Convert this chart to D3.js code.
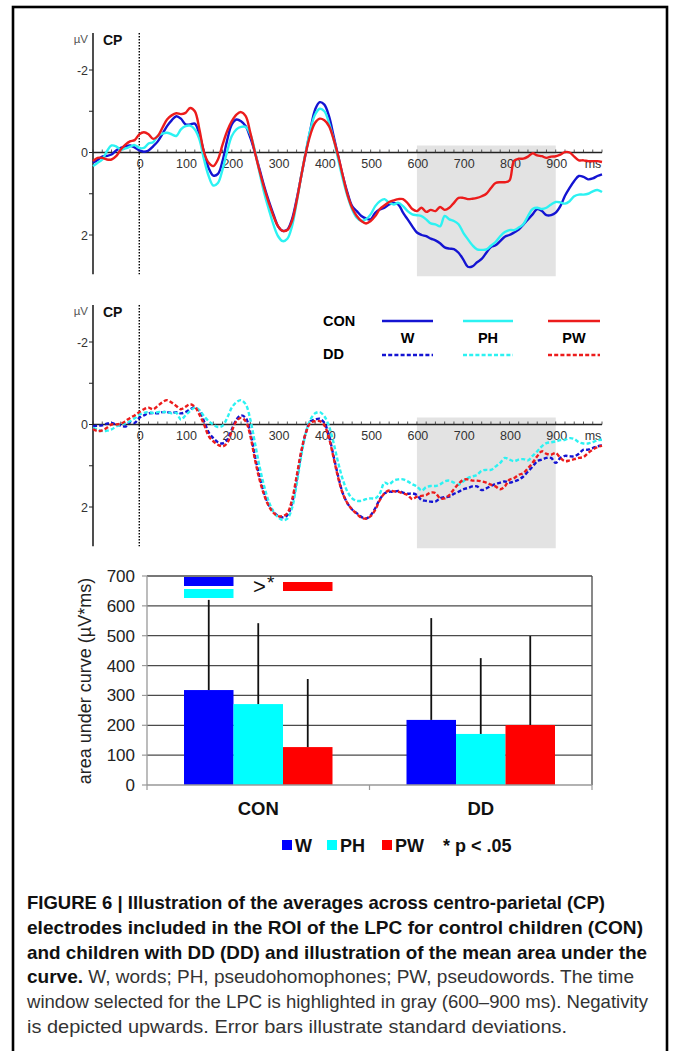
<!DOCTYPE html>
<html>
<head>
<meta charset="utf-8">
<script src="https://cdn.jsdelivr.net/npm/d3@7"></script>
<style>
  html, body { margin: 0; padding: 0; background: #fff; }
  svg { display: block; }
  text { font-family: "Liberation Sans", Arial, sans-serif; }
</style>
</head>
<body>
<svg id="fig" width="673" height="1051"></svg>
<script>
// ---------- ERP data (µV, negativity plotted upwards), sampled every 10 ms from -100 to 1000 ms ----------
const tStart = -100, tEnd = 1000, tStep = 10;
const conditions = ["W", "PH", "PW"];
const colors = { W: "#1414d2", PH: "#2cf2f2", PW: "#ec1c1c" };
const barColors = { W: "#0000ff", PH: "#00ffff", PW: "#ff0000" };

const conW = [
  0.25, 0.18, 0.10, 0.08, 0.05, -0.05, -0.11, -0.15, -0.17, -0.12,
  -0.05, -0.02, -0.05, -0.15, -0.27, -0.45, -0.64, -0.78, -0.88, -0.82,
  -0.68, -0.68, -0.70, -0.44, 0.00, 0.38, 0.56, 0.52, 0.20, -0.30,
  -0.68, -0.80, -0.76, -0.64, -0.36, 0.00, 0.41, 0.82, 1.18, 1.50,
  1.79, 1.90, 1.87, 1.62, 1.14, 0.57, 0.00, -0.56, -1.04, -1.22,
  -1.16, -0.88, -0.40, 0.09, 0.57, 0.98, 1.30, 1.42, 1.54, 1.60,
  1.62, 1.46, 1.38, 1.34, 1.26, 1.22, 1.26, 1.46, 1.62, 1.79,
  1.94, 2.00, 2.03, 2.09, 2.13, 2.20, 2.30, 2.33, 2.34, 2.43,
  2.59, 2.77, 2.76, 2.66, 2.58, 2.43, 2.29, 2.25, 2.15, 2.04,
  2.00, 1.94, 1.87, 1.75, 1.62, 1.50, 1.37, 1.42, 1.52, 1.52,
  1.46, 1.30, 1.05, 0.86, 0.69, 0.57, 0.59, 0.65, 0.63, 0.57,
  0.53
];
const conPH = [
  0.33, 0.25, 0.17, -0.03, -0.17, -0.15, -0.07, -0.10, -0.14, -0.18,
  -0.11, -0.11, -0.22, -0.25, -0.40, -0.46, -0.48, -0.44, -0.40, -0.56,
  -0.64, -0.65, -0.56, -0.32, 0.17, 0.57, 0.80, 0.74, 0.41, -0.03,
  -0.40, -0.56, -0.62, -0.62, -0.44, -0.03, 0.49, 0.98, 1.38, 1.75,
  2.03, 2.15, 2.09, 1.79, 1.22, 0.57, -0.03, -0.56, -0.92, -1.06,
  -1.00, -0.72, -0.32, 0.17, 0.65, 1.06, 1.38, 1.58, 1.66, 1.62,
  1.50, 1.30, 1.18, 1.13, 1.22, 1.26, 1.22, 1.30, 1.42, 1.50,
  1.52, 1.54, 1.62, 1.72, 1.74, 1.79, 1.54, 1.62, 1.66, 1.74,
  1.94, 2.10, 2.25, 2.35, 2.36, 2.35, 2.26, 2.17, 2.03, 1.93,
  1.88, 1.88, 1.82, 1.74, 1.54, 1.37, 1.34, 1.37, 1.34, 1.26,
  1.20, 1.21, 1.24, 1.18, 1.06, 1.02, 1.02, 1.00, 0.94, 0.91,
  0.96
];
const conPW = [
  0.21, 0.13, 0.13, 0.17, 0.17, 0.09, -0.07, -0.19, -0.27, -0.30,
  -0.44, -0.49, -0.44, -0.33, -0.40, -0.60, -0.80, -0.90, -0.95, -0.93,
  -0.96, -1.08, -1.00, -0.56, 0.00, 0.25, 0.33, 0.17, -0.19, -0.52,
  -0.76, -0.92, -0.98, -0.88, -0.48, 0.00, 0.45, 0.86, 1.22, 1.54,
  1.79, 1.90, 1.88, 1.66, 1.18, 0.57, 0.00, -0.44, -0.72, -0.82,
  -0.78, -0.64, -0.32, 0.09, 0.57, 1.02, 1.34, 1.54, 1.66, 1.72,
  1.66, 1.54, 1.37, 1.28, 1.20, 1.16, 1.13, 1.13, 1.23, 1.37,
  1.42, 1.34, 1.44, 1.39, 1.42, 1.32, 1.39, 1.34, 1.22, 1.10,
  1.10, 1.13, 1.12, 1.10, 1.06, 1.00, 0.86, 0.74, 0.72, 0.72,
  0.68, 0.20, 0.15, 0.15, 0.10, 0.02, 0.07, 0.09, 0.13, 0.10,
  0.09, 0.05, -0.01, 0.00, 0.10, 0.19, 0.19, 0.21, 0.21, 0.21,
  0.23
];
const ddW = [
  0.04, 0.03, 0.02, -0.02, -0.04, 0.00, 0.02, 0.05, -0.06, -0.04,
  -0.16, -0.22, -0.27, -0.28, -0.27, -0.30, -0.30, -0.28, -0.30, -0.27,
  -0.30, -0.37, -0.41, -0.33, -0.08, 0.19, 0.33, 0.43, 0.46, 0.37,
  0.12, -0.12, -0.22, -0.16, 0.20, 0.77, 1.26, 1.67, 1.95, 2.11,
  2.22, 2.25, 2.20, 1.91, 1.34, 0.69, 0.20, -0.08, -0.12, -0.14,
  -0.04, 0.28, 0.77, 1.26, 1.67, 1.91, 2.06, 2.15, 2.24, 2.28,
  2.20, 2.03, 1.81, 1.67, 1.63, 1.63, 1.61, 1.65, 1.68, 1.67,
  1.71, 1.83, 1.85, 1.87, 1.87, 1.79, 1.76, 1.75, 1.68, 1.63,
  1.57, 1.54, 1.50, 1.50, 1.59, 1.55, 1.49, 1.44, 1.41, 1.38,
  1.41, 1.38, 1.34, 1.26, 1.14, 1.02, 0.89, 0.85, 0.81, 0.81,
  0.93, 0.81, 0.76, 0.77, 0.77, 0.71, 0.61, 0.61, 0.57, 0.53,
  0.51
];
const ddPH = [
  0.08, 0.12, 0.16, 0.15, 0.12, 0.05, 0.00, -0.03, -0.08, -0.15,
  -0.24, -0.28, -0.30, -0.28, -0.30, -0.30, -0.30, -0.27, -0.28, -0.12,
  -0.22, -0.33, -0.41, -0.35, -0.20, -0.08, 0.00, 0.06, 0.03, -0.16,
  -0.41, -0.54, -0.59, -0.49, -0.12, 0.45, 1.02, 1.50, 1.87, 2.11,
  2.25, 2.32, 2.28, 2.03, 1.46, 0.77, 0.20, -0.12, -0.27, -0.30,
  -0.20, 0.04, 0.45, 0.93, 1.34, 1.63, 1.79, 1.85, 1.85, 1.81,
  1.79, 1.79, 1.67, 1.41, 1.45, 1.36, 1.33, 1.33, 1.38, 1.45,
  1.50, 1.60, 1.52, 1.49, 1.49, 1.45, 1.38, 1.36, 1.41, 1.46,
  1.38, 1.30, 1.26, 1.22, 1.12, 1.10, 1.10, 1.02, 0.93, 0.81,
  0.85, 0.89, 0.85, 0.84, 0.87, 0.76, 0.65, 0.53, 0.45, 0.43,
  0.41, 0.38, 0.37, 0.33, 0.35, 0.43, 0.46, 0.46, 0.43, 0.38,
  0.37
];
const ddPW = [
  0.11, 0.16, 0.14, 0.08, 0.00, 0.00, -0.02, -0.08, -0.16, -0.22,
  -0.30, -0.37, -0.41, -0.37, -0.45, -0.54, -0.59, -0.53, -0.45, -0.37,
  -0.43, -0.49, -0.43, -0.24, 0.00, 0.28, 0.41, 0.49, 0.53, 0.45,
  0.16, -0.08, -0.16, -0.08, 0.28, 0.85, 1.34, 1.71, 1.98, 2.14,
  2.22, 2.22, 2.15, 1.83, 1.26, 0.65, 0.20, -0.04, -0.08, -0.08,
  0.02, 0.33, 0.81, 1.30, 1.68, 1.91, 2.06, 2.17, 2.26, 2.28,
  2.22, 2.07, 1.83, 1.67, 1.60, 1.62, 1.63, 1.67, 1.71, 1.81,
  1.75, 1.73, 1.71, 1.65, 1.66, 1.79, 1.79, 1.71, 1.57, 1.44,
  1.34, 1.33, 1.36, 1.36, 1.38, 1.41, 1.46, 1.50, 1.57, 1.50,
  1.34, 1.30, 1.22, 1.18, 1.06, 0.93, 0.77, 0.65, 0.71, 0.73,
  0.69, 0.81, 0.89, 0.87, 0.84, 0.81, 0.79, 0.69, 0.61, 0.55,
  0.51
];

const xTickLabels = [0, 100, 200, 300, 400, 500, 600, 700, 800, 900];
const yTickLabels = [-2, 0, 2];
const lpcWindow = [600, 900];

// ---------- area under curve (µV*ms), mean and SD ----------
const groups = ["CON", "DD"];
const aucMean = { CON: [318, 271, 127], DD: [218, 171, 201] };
const aucSD   = { CON: [302, 271, 228], DD: [341, 254, 298] };
const aucTicks = [0, 100, 200, 300, 400, 500, 600, 700];

// ---------- caption ----------
const captionLines = [
  [{ t: "FIGURE 6 | Illustration of the averages across centro-parietal (CP)", b: true }],
  [{ t: "electrodes included in the ROI of the LPC for control children (CON)", b: true }],
  [{ t: "and children with DD (DD) and illustration of the mean area under the", b: true }],
  [{ t: "curve.", b: true }, { t: " W, words; PH, pseudohomophones; PW, pseudowords. The time", b: false }],
  [{ t: "window selected for the LPC is highlighted in gray (600–900 ms). Negativity", b: false }],
  [{ t: "is depicted upwards. Error bars illustrate standard deviations.", b: false }]
];
const captionWidths = [578, 616, 620, 607, 621, 540];

// ======================================================================
const svg = d3.select("#fig");
const times = d3.range(tStart, tEnd + 1, tStep);

// outer frame
svg.append("rect").attr("x", 13).attr("y", 7).attr("width", 654).attr("height", 1060)
  .attr("fill", "none").attr("stroke", "#000").attr("stroke-width", 2.6);

const x = d3.scaleLinear().domain([-100, 1000]).range([93, 602]);

function erpPanel(yZero, series, dashed, legend) {
  const y = d3.scaleLinear().domain([-2, 2]).range([yZero - 83, yZero + 82]);
  const g = svg.append("g");
  const yTop = y(-2.9), yBot = y(2.95);

  // LPC window
  g.append("rect")
    .attr("x", x(lpcWindow[0])).attr("width", x(lpcWindow[1]) - x(lpcWindow[0]))
    .attr("y", y(-0.17)).attr("height", y(3.0) - y(-0.17))
    .attr("fill", "#e3e3e3");

  // stimulus onset
  g.append("line").attr("x1", x(0)).attr("x2", x(0)).attr("y1", yTop).attr("y2", yBot)
    .attr("stroke", "#000").attr("stroke-width", 1.4).attr("stroke-dasharray", "1.5,1.5");

  // y axis
  g.append("line").attr("x1", x(-100)).attr("x2", x(-100)).attr("y1", yTop).attr("y2", yBot)
    .attr("stroke", "#222").attr("stroke-width", 1.6);
  [-2, -1, 0, 1, 2].forEach(v => {
    g.append("line").attr("x1", x(-100) - 4).attr("x2", x(-100)).attr("y1", y(v)).attr("y2", y(v))
      .attr("stroke", "#222").attr("stroke-width", 1);
  });
  yTickLabels.forEach(v => {
    g.append("text").attr("x", x(-100) - 5).attr("y", y(v) + 4.5).attr("text-anchor", "end")
      .attr("font-size", 12.5).attr("fill", "#333").text(v);
  });
  g.append("text").attr("x", 88).attr("y", yTop + 10).attr("text-anchor", "end")
    .attr("font-size", 11.5).attr("fill", "#555").text("µV");
  g.append("text").attr("x", 103).attr("y", yTop + 12).attr("font-size", 14)
    .attr("font-weight", "bold").attr("fill", "#111").text("CP");

  // x axis along 0 µV
  g.append("line").attr("x1", x(-100)).attr("x2", x(1000)).attr("y1", y(0)).attr("y2", y(0))
    .attr("stroke", "#222").attr("stroke-width", 1.6);
  d3.range(-100, 1001, 20).forEach(t => {
    g.append("line").attr("x1", x(t)).attr("x2", x(t)).attr("y1", y(0) - 3).attr("y2", y(0))
      .attr("stroke", "#333").attr("stroke-width", 0.8);
  });
  xTickLabels.forEach(t => {
    g.append("text").attr("x", x(t) + 1).attr("y", y(0) + 15).attr("text-anchor", "middle")
      .attr("font-size", 12.5).attr("fill", "#333").text(t);
  });
  g.append("text").attr("x", 593).attr("y", y(0) + 15).attr("text-anchor", "middle")
    .attr("font-size", 12.5).attr("fill", "#333").text("ms");

  // waveforms
  const line = d3.line().x(d => x(d.t)).y(d => y(d.v)).curve(d3.curveCatmullRom.alpha(0.5));
  conditions.forEach((c, k) => {
    const data = times.map((t, i) => ({ t, v: series[k][i] }));
    g.append("path").datum(data).attr("d", line)
      .attr("fill", "none").attr("stroke", colors[c]).attr("stroke-width", 2.4)
      .attr("stroke-linejoin", "round")
      .attr("stroke-dasharray", dashed ? "4,2.2" : null);
  });

  if (legend) {
    const lg = svg.append("g");
    lg.append("text").attr("x", 323).attr("y", 326).attr("font-size", 14.5).attr("font-weight", "bold").text("CON");
    lg.append("text").attr("x", 323).attr("y", 359).attr("font-size", 14.5).attr("font-weight", "bold").text("DD");
    const lx = { W: [382, 433], PH: [463, 513], PW: [548, 600] };
    conditions.forEach(c => {
      lg.append("line").attr("x1", lx[c][0]).attr("x2", lx[c][1]).attr("y1", 321).attr("y2", 321)
        .attr("stroke", colors[c]).attr("stroke-width", 2.4);
      lg.append("line").attr("x1", lx[c][0]).attr("x2", lx[c][1]).attr("y1", 355).attr("y2", 355)
        .attr("stroke", colors[c]).attr("stroke-width", 2.4).attr("stroke-dasharray", "4,2.2");
      lg.append("text").attr("x", (lx[c][0] + lx[c][1]) / 2).attr("y", 343).attr("text-anchor", "middle")
        .attr("font-size", 14.5).attr("font-weight", "bold").text(c);
    });
  }
}

erpPanel(153, [conW, conPH, conPW], false, false);
erpPanel(425, [ddW, ddPH, ddPW], true, true);

// ---------- bar chart ----------
const bx = d3.scaleBand().domain(groups).range([147, 592]);
const inner = d3.scaleBand().domain(conditions).range([0, 148.5]);
const by = d3.scaleLinear().domain([0, 700]).range([785, 576]);
const bg = svg.append("g");
const groupOffset = (bx.bandwidth() - 148.5) / 2;

aucTicks.slice(1).forEach(v => {
  bg.append("line").attr("x1", 147).attr("x2", 592).attr("y1", by(v)).attr("y2", by(v))
    .attr("stroke", "#4a4a4a").attr("stroke-width", 1.3);
});
bg.append("line").attr("x1", 592).attr("x2", 592).attr("y1", by(700)).attr("y2", by(0))
  .attr("stroke", "#4a4a4a").attr("stroke-width", 1.3);
bg.append("line").attr("x1", 147).attr("x2", 147).attr("y1", by(700)).attr("y2", by(0))
  .attr("stroke", "#999").attr("stroke-width", 1.3);
aucTicks.forEach(v => {
  bg.append("line").attr("x1", 142).attr("x2", 147).attr("y1", by(v)).attr("y2", by(v))
    .attr("stroke", "#999").attr("stroke-width", 1.2);
  bg.append("text").attr("x", 135).attr("y", by(v) + 6).attr("text-anchor", "end")
    .attr("font-size", 17).attr("fill", "#222").text(v);
});
bg.append("text").attr("transform", "translate(91,681) rotate(-90)").attr("text-anchor", "middle")
  .attr("font-size", 18).attr("fill", "#222").text("area under curve (µV*ms)");

groups.forEach(gname => {
  conditions.forEach((c, k) => {
    const x0 = bx(gname) + groupOffset + inner(c);
    bg.append("rect").attr("x", x0).attr("width", inner.bandwidth())
      .attr("y", by(aucMean[gname][k])).attr("height", by(0) - by(aucMean[gname][k]))
      .attr("fill", barColors[c]);
  });
});
bg.append("line").attr("x1", 147).attr("x2", 592).attr("y1", by(0)).attr("y2", by(0))
  .attr("stroke", "#999").attr("stroke-width", 1.3);
[147, 369.5, 592].forEach(px => {
  bg.append("line").attr("x1", px).attr("x2", px).attr("y1", by(0)).attr("y2", by(0) + 5)
    .attr("stroke", "#999").attr("stroke-width", 1.2);
});
groups.forEach(gname => {
  conditions.forEach((c, k) => {
    const cx = bx(gname) + groupOffset + inner(c) + inner.bandwidth() / 2;
    bg.append("line").attr("x1", cx).attr("x2", cx)
      .attr("y1", by(aucMean[gname][k])).attr("y2", by(aucMean[gname][k] + aucSD[gname][k]))
      .attr("stroke", "#111").attr("stroke-width", 1.8);
  });
  bg.append("text").attr("x", bx(gname) + bx.bandwidth() / 2).attr("y", 815).attr("text-anchor", "middle")
    .attr("font-size", 18.5).attr("font-weight", "bold").attr("fill", "#111").text(gname);
});

// significance marks: W and PH > PW in CON
const conX = c => bx("CON") + groupOffset + inner(c);
bg.append("rect").attr("x", conX("W")).attr("y", 577).attr("width", inner.bandwidth()).attr("height", 9).attr("fill", barColors.W);
bg.append("rect").attr("x", conX("W")).attr("y", 589).attr("width", inner.bandwidth()).attr("height", 9).attr("fill", barColors.PH);
bg.append("rect").attr("x", conX("PW")).attr("y", 582).attr("width", inner.bandwidth()).attr("height", 9).attr("fill", barColors.PW);
bg.append("text").attr("x", 253).attr("y", 594).attr("font-size", 22).attr("fill", "#111").text(">");
bg.append("text").attr("x", 267).attr("y", 589).attr("font-size", 19).attr("fill", "#111").text("*");

// legend
const legendItems = [["W", 282, 295], ["PH", 327, 340], ["PW", 382, 395]];
legendItems.forEach(([c, sx, tx]) => {
  bg.append("rect").attr("x", sx).attr("y", 840).attr("width", 10).attr("height", 10).attr("fill", barColors[c]);
  bg.append("text").attr("x", tx).attr("y", 851.5).attr("font-size", 18).attr("font-weight", "bold")
    .attr("fill", "#111").text(c);
});
bg.append("text").attr("x", 443).attr("y", 851.5).attr("font-size", 18).attr("font-weight", "bold")
  .attr("fill", "#111").text("* p < .05");

// ---------- caption ----------
const cap = svg.append("g");
captionLines.forEach((parts, i) => {
  const tx = cap.append("text").attr("x", 27).attr("y", 909 + i * 24.8)
    .attr("font-size", 18.5).attr("fill", "#1a1a1a")
    .attr("textLength", captionWidths[i]).attr("lengthAdjust", "spacingAndGlyphs");
  parts.forEach(p => {
    tx.append("tspan").attr("font-weight", p.b ? "bold" : "normal")
      .attr("fill", p.b ? "#111" : "#333").text(p.t);
  });
});
</script>
</body>
</html>
